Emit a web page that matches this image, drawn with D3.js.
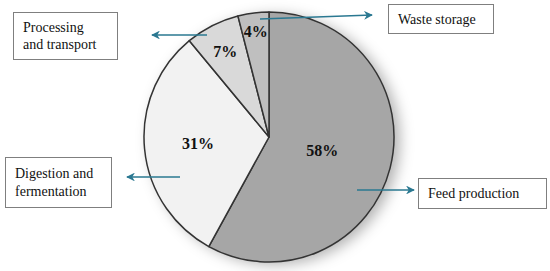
<!DOCTYPE html>
<html><head><meta charset="utf-8">
<script src="https://cdn.jsdelivr.net/npm/d3@7"></script>
<style>body{margin:0;background:#fff}svg{display:block}text{font-family:"Liberation Serif","Times New Roman",serif}</style>
</head><body>
<svg id="c" width="550" height="271"></svg>
<script>
const categories = ["Feed production", "Digestion and fermentation", "Processing and transport", "Waste storage"];
const values = [58, 31, 7, 4];
const valueLabels = ["58%", "31%", "7%", "4%"];
const sliceColors = ["#a6a6a6", "#f2f2f2", "#d9d9d9", "#bfbfbf"];

const svg = d3.select("#c");
const cx = 269, cy = 137, R = 125;
const defs = svg.append("defs");
const f = defs.append("filter").attr("id","sh").attr("x","-20%").attr("y","-20%").attr("width","150%").attr("height","150%");
f.append("feDropShadow").attr("dx",6).attr("dy",3).attr("stdDeviation",7).attr("flood-color","#000").attr("flood-opacity",0.3);
const mk = defs.append("marker").attr("id","ah").attr("viewBox","0 0 10 10").attr("refX",9).attr("refY",5)
  .attr("markerWidth",5.5).attr("markerHeight",5.5).attr("orient","auto");
mk.append("path").attr("d","M0,0 L10,5 L0,10 L3,5 Z").attr("fill","#2a7891");

const pie = d3.pie().sort(null).value(d => d)(values);
const arc = d3.arc().innerRadius(0).outerRadius(R);
const g = svg.append("g").attr("transform",`translate(${cx},${cy})`);
g.append("circle").attr("r",R).attr("fill","#a6a6a6").attr("filter","url(#sh)");
g.selectAll("path.s").data(pie).join("path").attr("class","s")
  .attr("d",arc).attr("fill",(d,i)=>sliceColors[i]).attr("stroke","#333").attr("stroke-width",1.5).attr("stroke-linejoin","round");

const labelR = [0.44, 0.57, 0.77, 0.85];
g.selectAll("text.v").data(pie).join("text").attr("class","v")
  .attr("transform",(d,i)=>{const a=d3.arc().innerRadius(R*labelR[i]).outerRadius(R*labelR[i]);const c=a.centroid(d);return `translate(${c[0]},${c[1]})`;})
  .attr("text-anchor","middle").attr("dominant-baseline","central")
  .attr("font-weight","bold").attr("font-size",16).attr("fill","#111")
  .text((d,i)=>valueLabels[i]);

// legend boxes
const boxes = [
  {i:0, x:418, y:178, w:128, h:30, lines:["Feed production"]},
  {i:1, x:5, y:157, w:106, h:50, lines:["Digestion and","fermentation"]},
  {i:2, x:13, y:12, w:104, h:47, lines:["Processing","and transport"]},
  {i:3, x:388, y:4, w:105, h:29, lines:["Waste storage"]}
];
boxes.forEach(b=>{
  svg.append("rect").attr("x",b.x+0.5).attr("y",b.y+0.5).attr("width",b.w).attr("height",b.h)
    .attr("fill","#fff").attr("stroke","#7f7f7f").attr("stroke-width",1);
  const t = svg.append("text").attr("font-size",14).attr("fill","#111");
  const n = b.lines.length, lh = 17.5;
  b.lines.forEach((l,k)=>{
    t.append("tspan").attr("x",b.x+10).attr("y",b.y+b.h/2+(k-(n-1)/2)*lh+5).text(l);
  });
});
// arrows
const arrows = [[357,190,414,190],[180,177,127,177],[207,35,152,35],[260,19,372,15]];
arrows.forEach(a=>{
  svg.append("line").attr("x1",a[0]).attr("y1",a[1]).attr("x2",a[2]).attr("y2",a[3])
    .attr("stroke","#2a7891").attr("stroke-width",1.6).attr("marker-end","url(#ah)");
});
</script>
</body></html>
